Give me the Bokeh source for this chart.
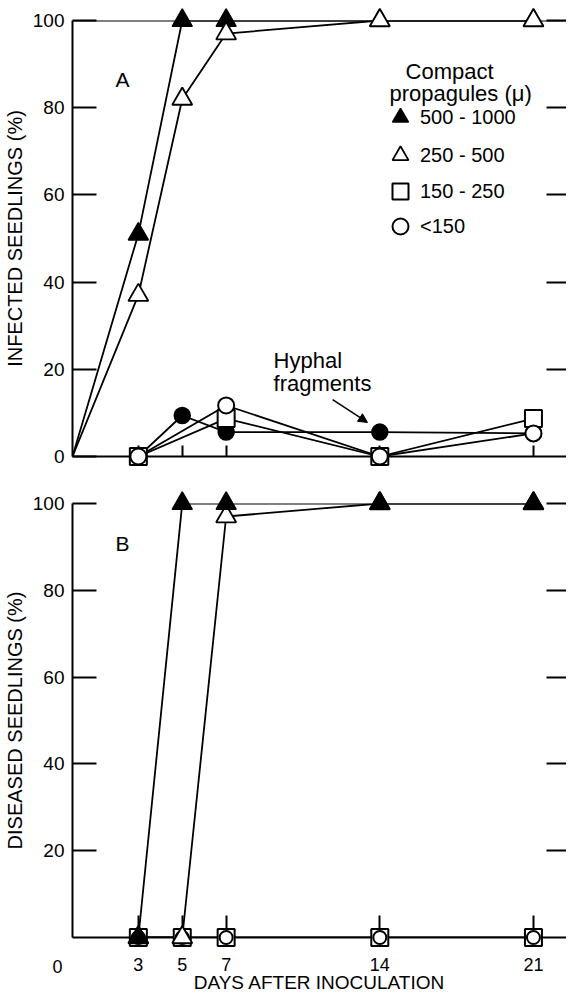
from bokeh.plotting import figure
from bokeh.layouts import column
from bokeh.models import (Range1d, LinearAxis, FixedTicker, Span, Label, Legend,
                          LegendItem, Arrow, NormalHead)
from bokeh.core.properties import value
from bokeh.embed import file_html
from bokeh.resources import INLINE

# ---------------- data ----------------
days_line = [0, 3, 5, 7, 14, 21]          # panel A triangles start at origin
days = [3, 5, 7, 14, 21]
days_small = [3, 7, 14, 21]

# Panel A: infected seedlings (%)
a_500_1000 = [0, 51, 100, 100, 100, 100]
a_250_500 = [0, 37, 82, 97, 100, 100]
a_150_250 = [0, 8.7, 0, 8.7]
a_lt150 = [0, 11.7, 0, 5.3]
a_hyphal = [0, 9.4, 5.6, 5.6, 5.3]

# Panel B: diseased seedlings (%)
b_500_1000 = [0, 100, 100, 100, 100]
b_250_500 = [0, 0, 97, 100, 100]
b_150_250 = [0, 0, 0, 0, 0]
b_lt150 = [0, 0, 0, 0, 0]

x_ticks = [3, 5, 7, 14, 21]
y_ticks_a = [0, 20, 40, 60, 80, 100]
y_ticks_b = [20, 40, 60, 80, 100]
right_ticks = [20, 40, 60, 80, 100]
origin_label = ["0"]

labels_legend = ["500 - 1000", "250 - 500", "150 - 250", "<150"]

FONT = "Liberation Sans"
FW = 494
XMAX = FW / 21.95


def base_fig(frame_h, top, bottom, y_ticks, ylabel):
    p = figure(frame_width=FW, frame_height=frame_h,
               x_range=Range1d(0, XMAX), y_range=Range1d(0, 100),
               output_backend="svg", toolbar_location=None,
               min_border_left=72, min_border_right=0,
               min_border_top=top, min_border_bottom=bottom,
               outline_line_color=None, background_fill_color="white")
    p.xgrid.visible = False
    p.ygrid.visible = False
    ya = p.yaxis[0]
    ya.ticker = FixedTicker(ticks=y_ticks)
    ya.bounds = (0, 100)
    ya.major_tick_in = 24
    ya.major_tick_out = 0
    ya.minor_tick_in = 0
    ya.minor_tick_out = 0
    ya.axis_line_width = 2
    ya.major_tick_line_width = 2
    ya.major_label_text_font = FONT
    ya.major_label_text_font_size = "19px"
    ya.major_label_text_color = "black"
    ya.major_label_standoff = 8
    ya.axis_label = ylabel
    ya.axis_label_text_font = FONT
    ya.axis_label_text_font_size = "20px"
    ya.axis_label_text_font_style = "normal"
    ya.axis_label_text_color = "black"
    ya.axis_label_standoff = 4

    ra = LinearAxis(ticker=FixedTicker(ticks=right_ticks),
                    major_tick_in=20, major_tick_out=0,
                    minor_tick_in=0, minor_tick_out=0,
                    axis_line_color=None, major_tick_line_width=2,
                    major_label_overrides={t: "" for t in right_ticks},
                    major_label_standoff=0)
    p.add_layout(ra, "right")
    return p


def txt(x, y, s, size, align="center"):
    return Label(x=x, y=y, text=s, text_align=align, text_baseline="middle",
                 text_font=FONT, text_font_size=size, text_color="black")


# ---------------- panel A ----------------
pA = base_fig(436, 20, 20, y_ticks_a, "INFECTED SEEDLINGS (%)")
xa = pA.xaxis[0]
xa.ticker = FixedTicker(ticks=x_ticks)
xa.major_tick_in = 11
xa.major_tick_out = 0
xa.minor_tick_in = 0
xa.minor_tick_out = 0
xa.axis_line_width = 2
xa.major_tick_line_width = 2
xa.major_label_overrides = {t: "" for t in x_ticks}
xa.major_label_standoff = 0

pA.add_layout(Span(location=100, dimension="width", line_color="black", line_width=2))

LW = 1.8
pA.line(days_line, a_500_1000, line_color="black", line_width=LW)
pA.line(days_line, a_250_500, line_color="black", line_width=LW)
pA.line(days, a_hyphal, line_color="black", line_width=LW)
pA.line(days_small, a_150_250, line_color="black", line_width=LW)
pA.line(days_small, a_lt150, line_color="black", line_width=LW)

rA_hyph = pA.scatter(days, a_hyphal, marker="circle", size=16, fill_color="black",
                     line_color="black", line_width=1.5, level="overlay")
rA_sq = pA.scatter(days_small, a_150_250, marker="square", size=17, fill_color="white",
                   line_color="black", line_width=2, level="overlay")
rA_ci = pA.scatter(days_small, a_lt150, marker="circle", size=16, fill_color="white",
                   line_color="black", line_width=2, level="overlay")
rA_tf = pA.scatter(days_line[1:], a_500_1000[1:], marker="triangle", size=20,
                   fill_color="black", line_color="black", line_width=1.5, level="overlay")
rA_to = pA.scatter(days_line[1:], a_250_500[1:], marker="triangle", size=20,
                   fill_color="white", line_color="black", line_width=1.8, level="overlay")

# legend: one row per entry so the row pitch matches the original
row_locs = [(308, 319), (308, 281), (308, 245), (308, 210)]
for lab, rend, loc in zip(labels_legend, [rA_tf, rA_to, rA_sq, rA_ci], row_locs):
    lg = Legend(items=[LegendItem(label=lab, renderers=[rend])],
                location=loc, glyph_width=40, glyph_height=40, spacing=0,
                padding=0, margin=0, label_standoff=0,
                border_line_color=None, background_fill_alpha=0,
                label_text_font=FONT, label_text_font_size="20px",
                label_text_color="black")
    pA.add_layout(lg)

pA.add_layout(txt(17.18, 88.3, "Compact", "22px"))
pA.add_layout(txt(17.68, 83.3, "propagules (μ)", "22px"))
pA.add_layout(txt(2.28, 86.5, "A", "21px"))
pA.add_layout(txt(9.16, 22.0, "Hyphal", "22px", "left"))
pA.add_layout(txt(9.16, 16.7, "fragments", "22px", "left"))
pA.add_layout(Arrow(end=NormalHead(size=9, fill_color="black", line_color="black"),
                    x_start=11.85, y_start=13.07, x_end=13.44, y_end=7.8,
                    line_color="black", line_width=1.5))

# ---------------- panel B ----------------
pB = base_fig(434, 27, 0, y_ticks_b, "DISEASED SEEDLINGS (%)")
xb = pB.xaxis[0]
xb.ticker = FixedTicker(ticks=x_ticks)
xb.major_tick_in = 22
xb.major_tick_out = 0
xb.minor_tick_in = 0
xb.minor_tick_out = 0
xb.axis_line_width = 2
xb.major_tick_line_width = 2
xb.major_label_text_font = FONT
xb.major_label_text_font_size = "18px"
xb.major_label_text_color = "black"
xb.major_label_standoff = 20
xb.axis_label = "DAYS AFTER INOCULATION"
xb.axis_label_text_font = FONT
xb.axis_label_text_font_size = "19px"
xb.axis_label_text_font_style = "normal"
xb.axis_label_text_color = "black"
xb.axis_label_standoff = -2

pB.line(days, b_500_1000, line_color="black", line_width=LW)
pB.line(days, b_250_500, line_color="black", line_width=LW)
pB.line(days, b_150_250, line_color="black", line_width=LW)

pB.scatter(days, b_150_250, marker="square", size=17, fill_color="white",
           line_color="black", line_width=2, level="overlay")
pB.scatter(days, b_lt150, marker="circle", size=13, fill_color="white",
           line_color="black", line_width=2, level="overlay")
pB.scatter(days, b_250_500, marker="triangle", size=20, fill_color="white",
           line_color="black", line_width=1.8, level="overlay")
pB.scatter(days, b_500_1000, marker="triangle", size=20, fill_color="black",
           line_color="black", line_width=1.5, level="overlay")

pB.add_layout(txt(2.28, 90.8, "B", "21px"))
# origin label "0" of the day axis, set down and to the left of the corner
pB.text(x=[0], y=[0], text=origin_label, x_offset=-15, y_offset=29,
        text_align="center", text_baseline="middle", text_font=value(FONT),
        text_font_size="18px", text_color="black", level="overlay")

layout = column(pA, pB, spacing=0)
open("out.html", "w").write(file_html(layout, INLINE))
